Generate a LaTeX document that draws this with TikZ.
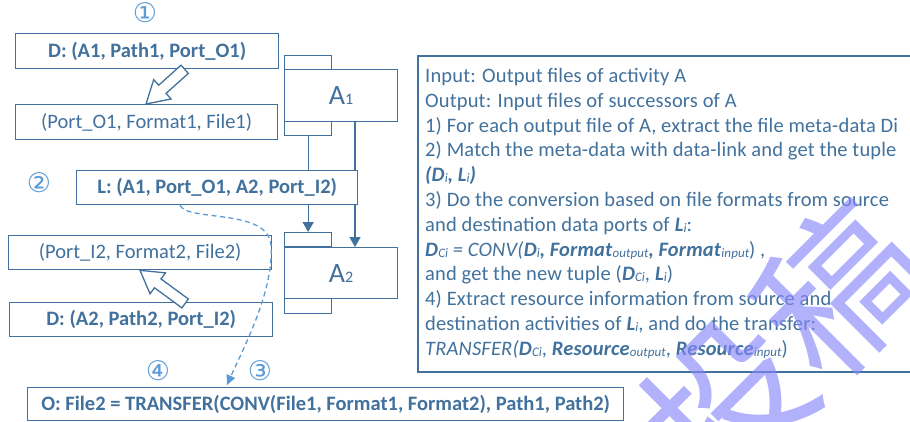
\documentclass[tikz,border=0pt]{standalone}
\usepackage{fontspec}
\setmainfont{Carlito}
\newfontfamily\circfont{DejaVu Sans}
\newfontfamily\wmfont{Noto Sans CJK SC}
\usetikzlibrary{arrows.meta}
\definecolor{boxc}{RGB}{65,113,156}
\definecolor{txtc}{RGB}{65,113,156}
\definecolor{numc}{RGB}{91,155,213}
\definecolor{dashc}{RGB}{91,155,213}
\definecolor{wmc}{RGB}{135,135,250}
\newcommand\bfit[1]{\textbf{\textit{#1}}}
\newcommand\subsc[1]{\raisebox{-1pt}{\fontsize{13}{13}\selectfont\itshape #1}}
\begin{document}
\begin{tikzpicture}[x=1pt,y=-1pt,
  box/.style={draw=boxc, line width=1.3pt, fill=white, inner sep=0pt, text=txtc,
              font=\fontsize{20.5}{24}\selectfont, anchor=north west},
  bbox/.style={box, font=\fontsize{20.5}{24}\selectfont\bfseries},
  part/.style={draw=boxc, line width=1.3pt, fill=white, inner sep=0pt, anchor=north west},
  num/.style={text=numc, font=\circfont\fontsize{27}{27}\selectfont, inner sep=0pt},
  conn/.style={draw=boxc, line width=1.3pt},
  tipped/.style={-{Triangle[length=10pt,width=11pt]}},
  hollow/.style={draw=boxc, line width=1.3pt, fill=white, line join=miter},
  flow/.style={draw=dashc, line width=1.3pt, dash pattern=on 5pt off 3.5pt,
               -{Triangle[length=10pt,width=9pt]}},
]
\useasboundingbox (0,0) rectangle (910,421);

% activity blocks with their input/output ports
\node[part, minimum width=47pt, minimum height=14pt] (a1t) at (284,55) {};
\node[part, minimum width=113pt, minimum height=52pt, text=txtc] (a1) at (284,69)
  {\fontsize{28}{28}\selectfont A\fontsize{16}{16}\selectfont 1};
\node[part, minimum width=47pt, minimum height=14pt] (a1b) at (284,121) {};

\node[part, minimum width=47pt, minimum height=14pt] (a2t) at (284,232) {};
\node[part, minimum width=113pt, minimum height=51pt, text=txtc] (a2) at (284,247)
  {\fontsize{28}{28}\selectfont A\fontsize{16}{16}\selectfont 2};
\node[part, minimum width=47pt, minimum height=15pt] (a2b) at (284,298) {};

% links between the activities (the right one passes under the link box)
\coordinate (r1) at ([xshift=71pt]a1.south west);
\coordinate (r2) at ([xshift=71pt]a2.north west);
\draw[conn] (a1b.south) -- (a1b.south |- 0,170);
\draw[conn] (r1) -- (r1 |- 0,170);

% meta-data boxes
\node[bbox, minimum width=263pt, minimum height=35pt] (d1) at (15,33) {D: (A1, Path1, Port\_O1)};
\node[box, minimum width=262pt, minimum height=35pt] (f1) at (15,104) {(Port\_O1, Format1, File1)};
\node[bbox, minimum width=281pt, minimum height=34pt] (lk) at (76,170) {L: (A1, Port\_O1, A2, Port\_I2)};
\node[box, minimum width=263pt, minimum height=34pt] (f2) at (8,235) {(Port\_I2, Format2, File2)};
\node[bbox, minimum width=263pt, minimum height=34pt] (d2) at (9,302) {D: (A2, Path2, Port\_I2)};
\node[bbox, minimum width=596pt, minimum height=33pt] (ob) at (27,387)
  {O: File2 = TRANSFER(CONV(File1, Format1, Format2), Path1, Path2)};

\draw[conn, tipped] (a1b.south |- lk.south) -- (a2t.north);
\draw[conn, tipped] (r1 |- lk.south) -- (r2);

% hollow arrows: meta-data to file tuples
\begin{scope}[shift={([xshift=131pt]f1.north west)}, rotate=221.9]
  \draw[hollow] (0,0) -- (-22,13) -- (-22,5.5) -- (-52,5.5) -- (-52,-5.5)
    -- (-22,-5.5) -- (-22,-13) -- cycle;
\end{scope}
\begin{scope}[shift={([xshift=132pt]f2.south west)}, rotate=143.7]
  \draw[hollow] (0,0) -- (-22,13) -- (-22,5.5) -- (-56,5.5) -- (-56,-5.5)
    -- (-22,-5.5) -- (-22,-13) -- cycle;
\end{scope}

% step numbers
\node[num] (n1) at (145,13) {①};
\node[num] (n2) at (39,183) {②};
\node[num] (n4) at (158,371) {④};
\node[num] (n3) at (260,371) {③};

% data flow from the link to the output
\draw[flow, shorten >=2pt] ([xshift=104pt]lk.south west)
  .. controls (188,222) and (268,208) .. (271,245)
  .. controls (274,290) and (245,345) .. ([xshift=199pt]ob.north west);

% algorithm description
\draw[draw=boxc, line width=1.3pt] (418,56) rectangle (925,372);
\node[anchor=north west, inner sep=0pt, align=left, text=txtc,
      font=\fontsize{20.5}{24.8}\selectfont\addfontfeature{LetterSpace=0.8}] (alg) at (425,68) {%
Input: Output files of activity A\\
Output: Input files of successors of A\\
1) For each output file of A, extract the file meta-data Di\\
2) Match the meta-data with data-link and get the tuple\\
\bfit{(D}\subsc{i}\bfit{, L}\subsc{i}\bfit{)}\\
3) Do the conversion based on file formats from source\\
and destination data ports of \bfit{L}\subsc{i}:\\
\bfit{D}\subsc{Ci} \textit{= CONV(}\bfit{D}\subsc{i}\bfit{, Format}\subsc{output}\bfit{, Format}\subsc{input}) ,\\
and get the new tuple (\bfit{D}\subsc{Ci}, \bfit{L}\subsc{i})\\
4) Extract resource information from source and\\
destination activities of \bfit{L}\subsc{i}, and do the transfer:\\
\textit{TRANSFER(}\bfit{D}\subsc{Ci}, \bfit{Resource}\subsc{output}, \bfit{Resource}\subsc{input})};

% stamp
\node[text=wmc, opacity=0.65, rotate=45, inner sep=0pt,
      font=\wmfont\fontsize{160}{160}\selectfont] (wm) at (783,345) {投稿};
\end{tikzpicture}
\end{document}
